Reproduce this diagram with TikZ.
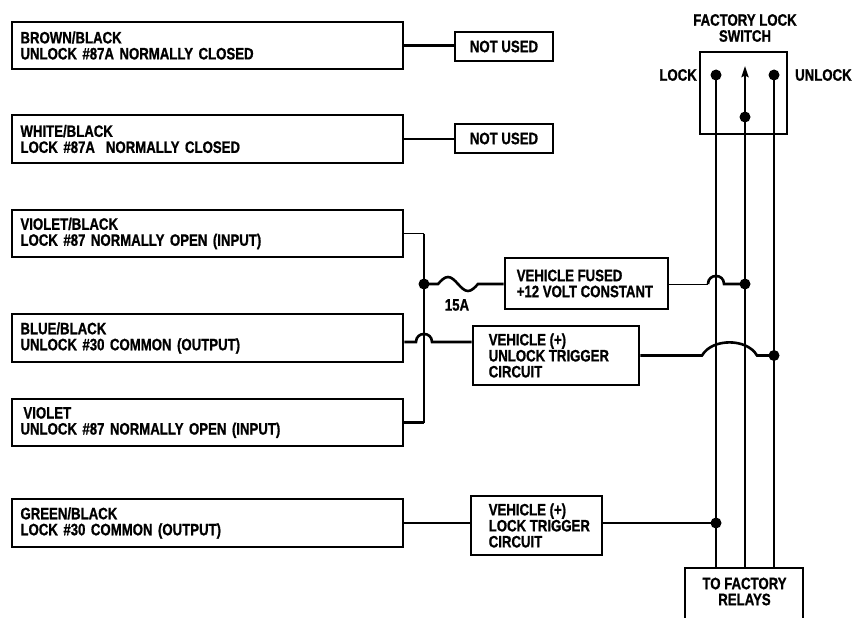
\documentclass[tikz,border=0pt]{standalone}
\usepackage{fontspec}
\setmainfont{Liberation Sans}[FakeStretch=0.8, BoldFeatures={FakeBold=1}]
\usetikzlibrary{arrows.meta}
\newcommand\myfnt{\bfseries\fontsize{16.5}{16}\selectfont\hyphenpenalty=10000\relax\exhyphenpenalty=10000\relax}
\begin{document}
\begin{tikzpicture}[x=1pt,y=-1pt,
  fnt/.style={font=\myfnt},
  txt/.style={fnt, inner sep=0pt},
  bx/.style={draw, line width=2.9pt, align=left, inner ysep=0pt, fnt},
  lbox/.style={bx, text width=374pt, inner xsep=8.5pt},
  cbox/.style={draw, line width=2.9pt, align=center, inner sep=0pt, fnt},
  frame/.style={draw, line width=2.9pt, inner sep=0pt},
  wire/.style={line width=2.6pt},
  thinwire/.style={line width=1pt},
  jdot/.style={circle, fill=black, inner sep=0pt, minimum size=11pt},
]
\useasboundingbox (0,0) rectangle (854,618);

% left boxes
\node[lbox, minimum height=47pt] (b1) at (207.5,45.5) {BROWN/BLACK\\UNLOCK \#87A NORMALLY CLOSED};
\node[lbox, minimum height=48pt] (b2) at (207.5,139) {WHITE/BLACK\\LOCK \#87A~ NORMALLY CLOSED};
\node[lbox, minimum height=47pt] (b3) at (207.5,233.5) {VIOLET/BLACK\\LOCK \#87 NORMALLY OPEN (INPUT)};
\node[lbox, minimum height=48pt] (b4) at (207.5,338) {BLUE/BLACK\\UNLOCK \#30 COMMON (OUTPUT)};
\node[lbox, minimum height=47pt] (b5) at (207.5,422.5) {\hspace{3pt}VIOLET\\UNLOCK \#87 NORMALLY OPEN (INPUT)};
\node[lbox, minimum height=48pt] (b6) at (207.5,523) {GREEN/BLACK\\LOCK \#30 COMMON (OUTPUT)};

% not used boxes
\node[cbox, minimum width=98pt, minimum height=29pt] (n1) at (504,46.5) {NOT USED};
\node[cbox, minimum width=98pt, minimum height=29pt] (n2) at (504,138.5) {NOT USED};

% vehicle boxes
\node[frame, minimum width=163pt, minimum height=51pt] (fus) at (586.5,283.5) {};
\node[txt, align=left, anchor=west] (fust) at ([xshift=13pt]fus.west) {VEHICLE FUSED\\+12 VOLT CONSTANT};
\node[frame, minimum width=166pt, minimum height=59pt] (ult) at (556,355.5) {};
\node[txt, align=left, anchor=west] (ultt) at ([xshift=17pt]ult.west) {VEHICLE (+)\\UNLOCK TRIGGER\\CIRCUIT};
\node[frame, minimum width=131pt, minimum height=59pt] (lt) at (536.5,525.5) {};
\node[txt, align=left, anchor=west] (ltt) at ([xshift=19pt]lt.west) {VEHICLE (+)\\LOCK TRIGGER\\CIRCUIT};

% switch
\node[frame, minimum width=87pt, minimum height=82pt] (sw) at (743.5,93) {};
\node[txt, align=center] (swt) at (745,28) {FACTORY LOCK\\SWITCH};
\node[txt, anchor=east] (lockl) at (697,75) {LOCK};
\node[txt, anchor=west] (unlockl) at (795,75) {UNLOCK};
\coordinate (sL) at (716,75);
\coordinate (sM) at (745,117);
\coordinate (sR) at (774,75);
\coordinate (sMt) at (745,66);

% relays
\node[txt, align=center] (rel) at (744.5,591.5) {TO FACTORY\\RELAYS};
\coordinate (relTL) at (685,568);
\coordinate (relTR) at (803,568);
\coordinate (relBL) at (685,618);
\coordinate (relBR) at (803,618);
\draw[line width=2.9pt] (relBL) -- (relTL) -- (relTR) -- (relBR);

% vertical wires
\draw[wire] (sL) -- (sL |- relTL);
\draw[wire] (sM) -- (sM |- relTL);
\draw[wire] (sR) -- (sR |- relTL);
\draw[wire, -{Stealth[length=11pt,width=7pt,inset=1.5pt]}] (sM) -- (sMt);
\node[jdot] (dL) at (sL) {};
\node[jdot] (dR) at (sR) {};
\node[jdot] (dM) at (sM) {};

% not used wires
\draw[wire] (b1.east) -- (b1.east -| n1.west);
\draw[wire] (b2.east) -- (b2.east -| n2.west);

% bus
\coordinate (jn) at (424,284);
\draw[thinwire] (b3.east) -- (b3.east -| jn);
\draw[wire] (b3.east -| jn) -- (b5.east -| jn);
\draw[wire] (b5.east) -- (b5.east -| jn);
\node[jdot] (jdot) at (jn) {};

% fuse
\draw[wire] (jn) -- (438,284) sin (448,277) cos (458,284) sin (468,291) cos (478,284) -- (fus.west |- jn);
\node[txt] (fa) at (457,305) {15A};

% fused to middle line with hop
\coordinate (fM) at (sM |- jn);
\draw[thinwire] (fus.east |- jn) -- (708,284);
\draw[wire] (708,284) .. controls (708,273.3) and (724,273.3) .. (724,284) -- (fM);
\node[jdot] (dfM) at (fM) {};

% blue/black to unlock trigger
\coordinate (b4o) at ([yshift=-4pt]b4.east);
\draw[wire] (b4o) -- (416,342) .. controls (416,331.3) and (432,331.3) .. (432,342) -- (ult.west |- b4o);

% unlock trigger to right line
\coordinate (uR) at (sR |- ult.east);
\draw[wire] (ult.east) -- (702,355.5) .. controls (712,338) and (747,338) .. (757,355.5) -- (uR);
\node[jdot] (duR) at (uR) {};

% green/black to lock trigger to left line
\coordinate (lL) at (sL |- b6.east);
\draw[wire] (b6.east) -- (lt.west |- b6.east);
\draw[wire] (lt.east |- b6.east) -- (lL);
\node[jdot] (dlL) at (lL) {};
\end{tikzpicture}
\end{document}
